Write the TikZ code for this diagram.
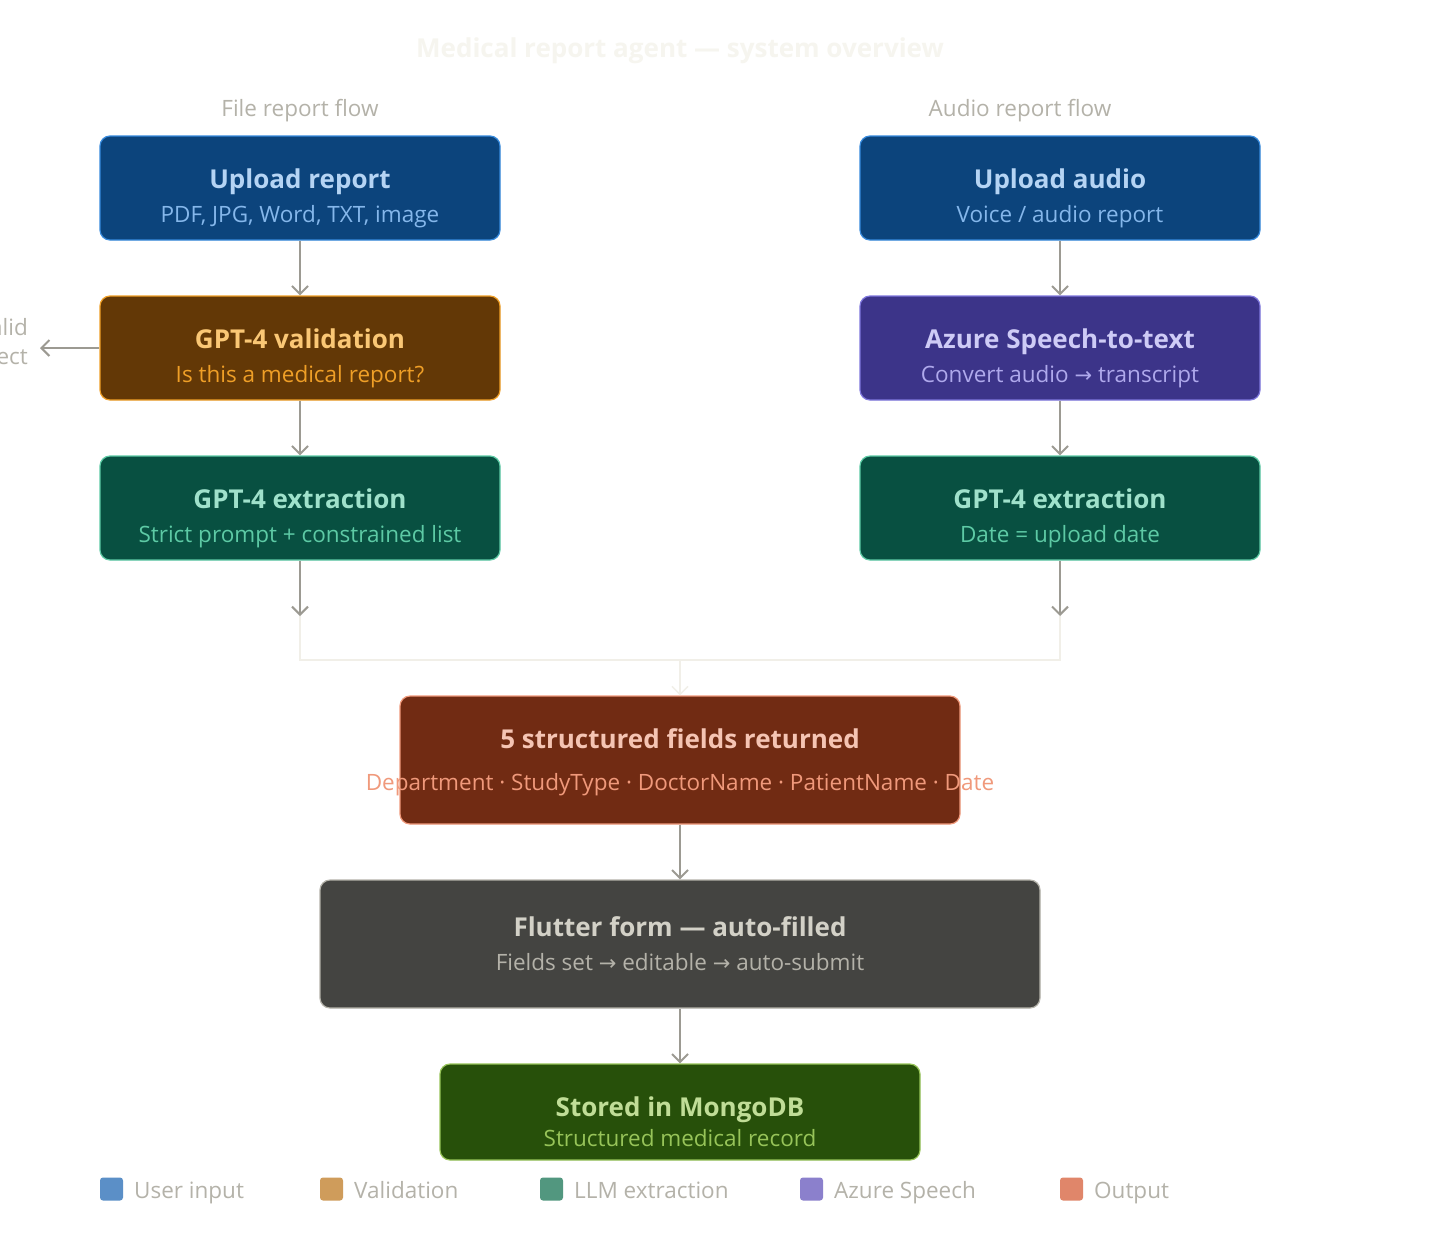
\documentclass[tikz,border=0pt]{standalone}
\usepackage{fontspec}
\setmainfont{Open Sans}
\newfontfamily\symf{DejaVu Sans}
\newcommand{\rarr}{{\symf\fontsize{21}{24}\selectfont →}}
\usetikzlibrary{arrows.meta}
\definecolor{arrowgray}{HTML}{9C9A92}
\definecolor{faint}{HTML}{F1EFE8}
\definecolor{hdr}{HTML}{B4B2A9}
\definecolor{ttl}{HTML}{F6F5EF}
\definecolor{bluef}{HTML}{0C447C}\definecolor{blueb}{HTML}{378ADD}\definecolor{bluet}{HTML}{B5D4F4}\definecolor{blues}{HTML}{85B7EB}
\definecolor{ambf}{HTML}{633806}\definecolor{ambb}{HTML}{EF9F27}\definecolor{ambt}{HTML}{FAC775}\definecolor{ambs}{HTML}{EF9F27}
\definecolor{purf}{HTML}{3C3489}\definecolor{purb}{HTML}{7F77DD}\definecolor{purt}{HTML}{CECBF6}\definecolor{purs}{HTML}{AFA9EC}
\definecolor{tealf}{HTML}{085041}\definecolor{tealb}{HTML}{5DCAA5}\definecolor{tealt}{HTML}{9FE1CB}\definecolor{teals}{HTML}{5DCAA5}
\definecolor{corf}{HTML}{712B13}\definecolor{corb}{HTML}{F0997B}\definecolor{cort}{HTML}{F5C4B3}\definecolor{cors}{HTML}{F0997B}
\definecolor{grayf}{HTML}{444441}\definecolor{grayb}{HTML}{B4B2A9}\definecolor{grayt}{HTML}{D3D1C7}\definecolor{grays}{HTML}{B4B2A9}
\definecolor{grnf}{HTML}{27500A}\definecolor{grnb}{HTML}{97C459}\definecolor{grnt}{HTML}{C0DD97}\definecolor{grns}{HTML}{97C459}
\definecolor{lgblue}{HTML}{5B8FC7}\definecolor{lgamb}{HTML}{CF9C5B}\definecolor{lgteal}{HTML}{52977F}\definecolor{lgpur}{HTML}{8B80CC}\definecolor{lgcor}{HTML}{E0866A}
\tikzset{
  box/.style={draw, rounded corners=10pt, line width=1.2pt, inner sep=0pt},
  ttext/.style={font=\fontsize{26}{30}\selectfont\bfseries, inner sep=0pt, anchor=base},
  stext/.style={font=\fontsize{22.5}{26}\selectfont, inner sep=0pt, anchor=base},
  hdrtext/.style={font=\fontsize{22.5}{26}\selectfont, text=hdr, inner sep=0pt, anchor=base},
  arr/.style={draw=arrowgray, line width=2pt, -{Straight Barb[length=8pt,width=16pt,line width=2pt]}},
  farr/.style={draw=faint, line width=1.5pt, -{Straight Barb[length=8pt,width=16pt,line width=1.5pt]}},
  fline/.style={draw=faint, line width=1.5pt},
  lgsq/.style={rounded corners=3pt, minimum width=23pt, minimum height=23pt, inner sep=0pt},
  lgtext/.style={font=\fontsize{22.5}{26}\selectfont, text=hdr, inner sep=0pt, anchor=base west}
}
\begin{document}
\begin{tikzpicture}[x=1pt,y=-1pt]
\useasboundingbox (0,0) rectangle (1440,1240);
\fill[white] (0,0) rectangle (1440,1240);
% title
\node[font=\fontsize{26}{30}\selectfont\bfseries, text=ttl, inner sep=0pt, anchor=base] (title) at (680,57) {Medical report agent — system overview};
% headers
\node[hdrtext] (h1) at (300,116) {File report flow};
\node[hdrtext] (h2) at (1020,116) {Audio report flow};
% left column
\node[box, fill=bluef, draw=blueb, minimum width=400pt, minimum height=104pt] (up1) at (300,188) {};
\node[ttext, text=bluet] (up1t) at (300,188) {Upload report};
\node[stext, text=blues] (up1s) at (300,222) {PDF, JPG, Word, TXT, image};
\node[box, fill=ambf, draw=ambb, minimum width=400pt, minimum height=104pt] (val) at (300,348) {};
\node[ttext, text=ambt] (valt) at (300,348) {GPT-4 validation};
\node[stext, text=ambs] (vals) at (300,382) {Is this a medical report?};
\node[box, fill=tealf, draw=tealb, minimum width=400pt, minimum height=104pt] (ext1) at (300,508) {};
\node[ttext, text=tealt] (ext1t) at (300,508) {GPT-4 extraction};
\node[stext, text=teals] (ext1s) at (300,542) {Strict prompt + constrained list};
% right column
\node[box, fill=bluef, draw=blueb, minimum width=400pt, minimum height=104pt] (up2) at (1060,188) {};
\node[ttext, text=bluet] (up2t) at (1060,188) {Upload audio};
\node[stext, text=blues] (up2s) at (1060,222) {Voice / audio report};
\node[box, fill=purf, draw=purb, minimum width=400pt, minimum height=104pt] (az) at (1060,348) {};
\node[ttext, text=purt] (azt) at (1060,348) {Azure Speech-to-text};
\node[stext, text=purs] (azs) at (1060,382) {Convert audio \rarr{} transcript};
\node[box, fill=tealf, draw=tealb, minimum width=400pt, minimum height=104pt] (ext2) at (1060,508) {};
\node[ttext, text=tealt] (ext2t) at (1060,508) {GPT-4 extraction};
\node[stext, text=teals] (ext2s) at (1060,542) {Date = upload date};
% reject
\node[hdrtext, anchor=base east] (rej1) at (28,335) {Invalid};
\node[hdrtext, anchor=base east] (rej2) at (28,364) {reject};
\coordinate (rej) at (40,348);
% output
\node[box, fill=corf, draw=corb, minimum width=560pt, minimum height=128pt] (out) at (680,760) {};
\node[ttext, text=cort] (outt) at (680,748) {5 structured fields returned};
\node[stext, text=cors] (outs) at (680,790) {Department · StudyType · DoctorName · PatientName · Date};
\node[box, fill=grayf, draw=grayb, minimum width=720pt, minimum height=128pt] (fl) at (680,944) {};
\node[ttext, text=grayt] (flt) at (680,936) {Flutter form — auto-filled};
\node[stext, text=grays] (fls) at (680,970) {Fields set \rarr{} editable \rarr{} auto-submit};
\node[box, fill=grnf, draw=grnb, minimum width=480pt, minimum height=96pt] (db) at (680,1112) {};
\node[ttext, text=grnt] (dbt) at (680,1116) {Stored in MongoDB};
\node[stext, text=grns] (dbs) at (680,1146) {Structured medical record};
% arrows
\draw[arr] (up1.south) -- (val.north);
\draw[arr] (val.south) -- (ext1.north);
\draw[arr] (up2.south) -- (az.north);
\draw[arr] (az.south) -- (ext2.north);
\draw[arr] (val.west) -- (rej);
\coordinate (a1) at (300,616);
\coordinate (a2) at (1060,616);
\coordinate (j) at (680,660);
\draw[fline] (a1) |- (j) -| (a2);
\draw[farr] (j) -- (out.north);
\draw[arr] (ext1.south) -- (a1);
\draw[arr] (ext2.south) -- (a2);
\draw[arr] (out.south) -- (fl.north);
\draw[arr] (fl.south) -- (db.north);
% legend
\node[lgsq, fill=lgblue] (l1) at (111.5,1189) {};
\node[lgtext] (l1t) at (134,1198) {User input};
\node[lgsq, fill=lgamb] (l2) at (331.5,1189) {};
\node[lgtext] (l2t) at (354,1198) {Validation};
\node[lgsq, fill=lgteal] (l3) at (551.5,1189) {};
\node[lgtext] (l3t) at (574,1198) {LLM extraction};
\node[lgsq, fill=lgpur] (l4) at (811.5,1189) {};
\node[lgtext] (l4t) at (834,1198) {Azure Speech};
\node[lgsq, fill=lgcor] (l5) at (1071.5,1189) {};
\node[lgtext] (l5t) at (1094,1198) {Output};
\end{tikzpicture}
\end{document}
